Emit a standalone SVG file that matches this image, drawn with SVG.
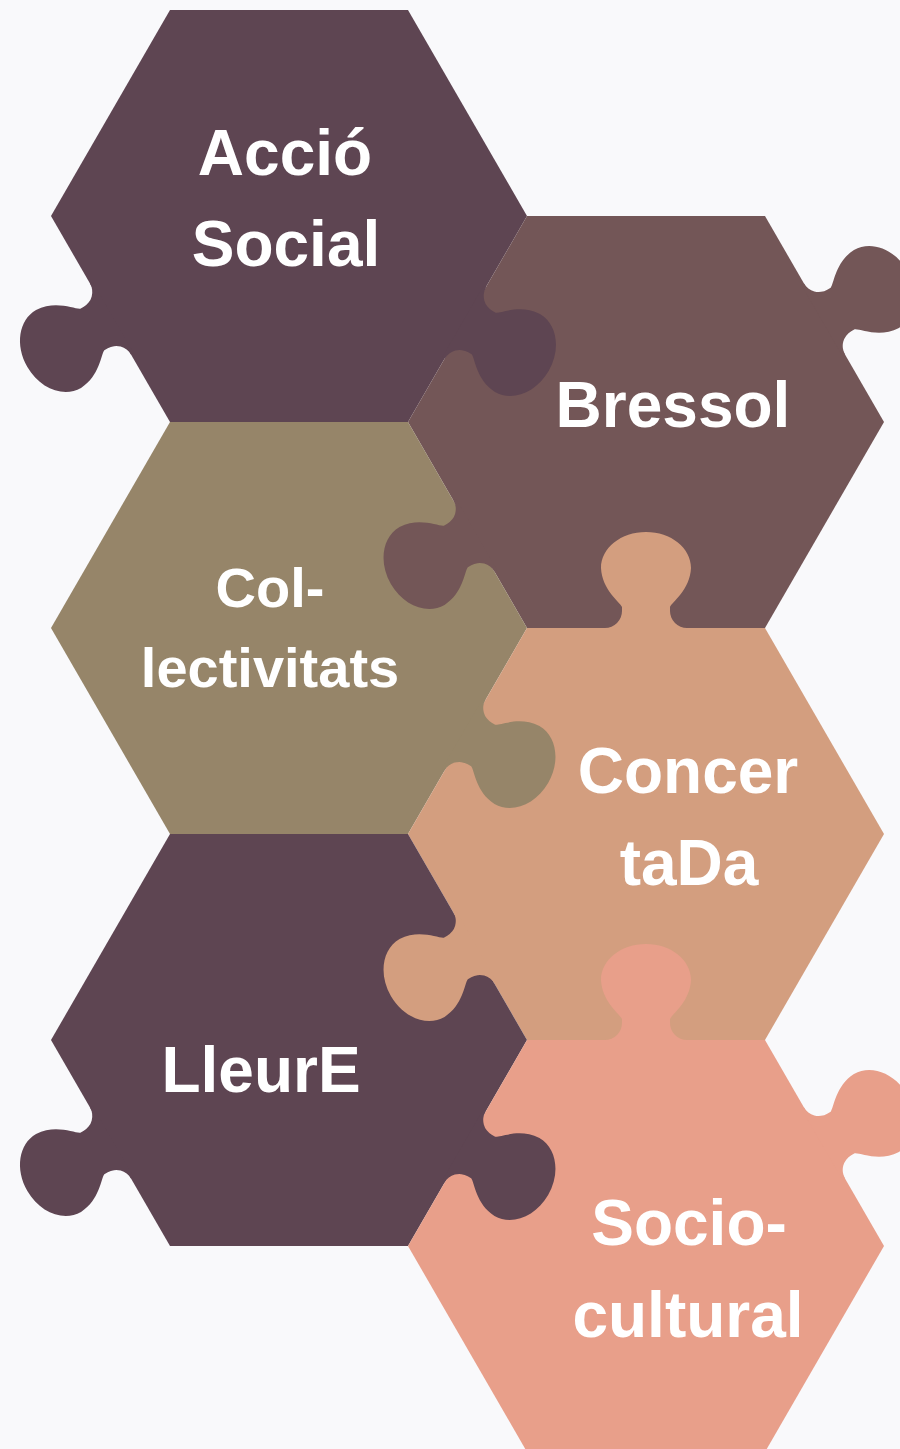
<svg xmlns="http://www.w3.org/2000/svg" xmlns:xlink="http://www.w3.org/1999/xlink" width="900" height="1449" viewBox="0 0 900 1449">
<style>
.c1{fill:#5e4552}
.c2{fill:#735657}
.c3{fill:#968569}
.c4{fill:#d39e7f}
.c6{fill:#e89f8a}
.lbl{fill:#ffffff;font-family:"Liberation Sans",Arial,sans-serif;font-weight:bold;font-size:64px;text-anchor:middle}
.sm{font-size:56px}
</style>
<defs>
<path id="knob" d="M -41,3 L -41,0 A 17 17 0 0 0 -24,-17 L -24,-21 C -26,-26 -44,-38 -45,-60 C -45,-80 -25,-96 0,-96 C 25,-96 45,-80 45,-60 C 44,-38 26,-26 24,-21 L 24,-17 A 17 17 0 0 0 41,0 L 41,3 Z"/>
</defs>
<rect width="900" height="1449" fill="#f9f9fb"/>
<g id="pieces">
<g id="node-accio-social"><polygon class="c1" points="170,10 408,10 527,216 408,422 170,422 51,216"/></g>
<g id="node-bressol"><polygon class="c2" points="527,216 765,216 884,422 765,628 527,628 408,422"/></g>
<g id="node-collectivitats"><polygon class="c3" points="170,422 408,422 527,628 408,834 170,834 51,628"/></g>
<g id="node-concertada"><polygon class="c4" points="527,628 765,628 884,834 765,1040 527,1040 408,834"/></g>
<g id="node-lleure"><polygon class="c1" points="170,834 408,834 527,1040 408,1246 170,1246 51,1040"/></g>
<g id="node-sociocultural"><polygon class="c6" points="527,1040 765,1040 884,1246 765,1452 527,1452 408,1246"/></g>
</g>
<g id="connectors">
<use xlink:href="#knob" class="c1" transform="translate(110.5,319) rotate(-120)"/>
<use xlink:href="#knob" class="c1" transform="translate(465.5,323) rotate(120)"/>
<use xlink:href="#knob" class="c2" transform="translate(824.5,319) rotate(60)"/>
<use xlink:href="#knob" class="c2" transform="translate(474,536) rotate(-120)"/>
<use xlink:href="#knob" class="c4" transform="translate(646,628)"/>
<use xlink:href="#knob" class="c3" transform="translate(465,735) rotate(120)"/>
<use xlink:href="#knob" class="c4" transform="translate(474,948) rotate(-120)"/>
<use xlink:href="#knob" class="c6" transform="translate(646,1040)"/>
<use xlink:href="#knob" class="c1" transform="translate(110.5,1143) rotate(-120)"/>
<use xlink:href="#knob" class="c1" transform="translate(465,1147) rotate(120)"/>
<use xlink:href="#knob" class="c6" transform="translate(824.5,1143) rotate(60)"/>
</g>
<g id="labels">
<text class="lbl" x="285" y="175">Acció</text>
<text class="lbl" x="286" y="266">Social</text>
<text class="lbl" x="673" y="427">Bressol</text>
<text class="lbl sm" x="270" y="607">Col-</text>
<text class="lbl sm" x="270" y="687">lectivitats</text>
<text class="lbl" x="688" y="793">Concer</text>
<text class="lbl" x="689" y="885">taDa</text>
<text class="lbl" x="261" y="1092">LleurE</text>
<text class="lbl" x="689" y="1245">Socio-</text>
<text class="lbl" x="688" y="1337">cultural</text>
</g>
</svg>
